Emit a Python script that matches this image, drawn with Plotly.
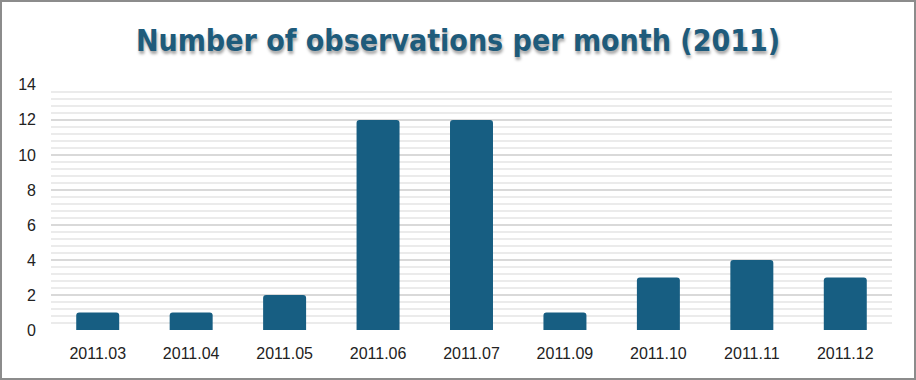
import plotly.graph_objects as go

months = ["2011.03", "2011.04", "2011.05", "2011.06", "2011.07", "2011.09", "2011.10", "2011.11", "2011.12"]
counts = [1, 1, 2, 12, 12, 1, 3, 4, 3]
y_ticks = [0, 2, 4, 6, 8, 10, 12, 14]

W, H = 916, 380
ml, mr, mt, mb = 51, 24, 84, 50
pw, ph = W - ml - mr, H - mt - mb

fig = go.Figure(go.Bar(
    x=months, y=counts,
    marker=dict(color="#175E82", cornerradius=3, line=dict(width=0)),
    width=0.46,
))

fig.update_layout(
    width=W, height=H,
    margin=dict(l=ml, r=mr, t=mt, b=mb),
    paper_bgcolor="white", plot_bgcolor="white",
    showlegend=False,
    title=dict(
        text="<b>Number of observations per month (2011)</b>",
        x=0.5, xref="container", xanchor="center",
        y=1 - 40 / H, yref="container", yanchor="middle",
        font=dict(family="DejaVu Sans Condensed, Liberation Sans Narrow, sans-serif", size=30,
                  color="#1E5B7B", shadow="1px 3px 3px rgba(0,0,0,0.35)"),
    ),
    xaxis=dict(
        showgrid=False, showline=False, zeroline=False, ticks="",
        tickfont=dict(family="Liberation Sans, Arial, sans-serif", size=16, color="#222"),
        ticklabelstandoff=12,
    ),
    yaxis=dict(
        range=[0, 14.05], tickvals=y_ticks, showline=False, zeroline=False,
        gridcolor="#D9D9D9", gridwidth=2,
        minor=dict(dtick=0.4, tick0=0, showgrid=True, gridcolor="#EBEBEB", gridwidth=2),
        tickfont=dict(family="Liberation Sans, Arial, sans-serif", size=16, color="#222"),
        ticklabelstandoff=14,
    ),
    shapes=[dict(
        type="rect", xref="paper", yref="paper",
        x0=-(ml - 1) / pw, x1=1 + (mr - 1) / pw,
        y0=-(mb - 1) / ph, y1=1 + (mt - 1) / ph,
        line=dict(color="#8C8C8C", width=2), fillcolor="rgba(0,0,0,0)", layer="above",
    )],
)

fig.write_html("out.html", config={"displayModeBar": False},
               post_script="document.body.style.margin='0px';document.body.style.padding='0px';")
